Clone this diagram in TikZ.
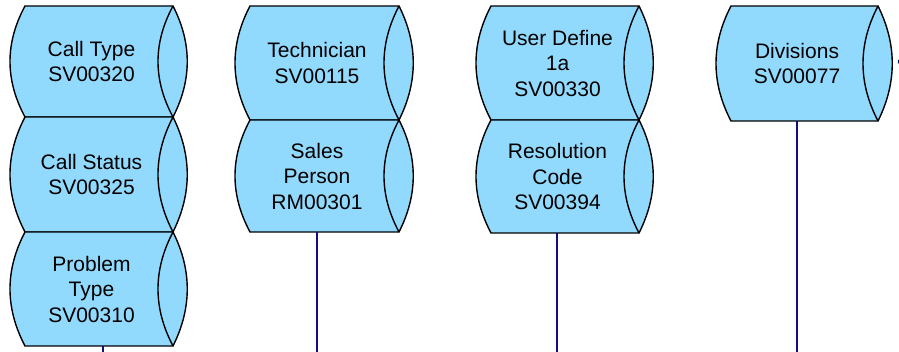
\documentclass[tikz,border=0pt]{standalone}
\usepackage{fontspec}
\setmainfont{Liberation Sans}
\definecolor{boxfill}{HTML}{92DAFD}
\definecolor{linkcol}{HTML}{10107A}
\tikzset{
  tapeshape/.style={fill=boxfill, draw=black, line width=1.4pt, line join=miter},
  tapeline/.style={draw=black, line width=1.4pt},
  tapetext/.style={inner sep=0pt, align=center, font=\fontsize{21}{25.5}\selectfont, text=black},
  link/.style={draw=linkcol, line width=1.8pt}
}
% name, L, R, T, B, text
\newcommand\tapebox[6]{%
  \pgfmathsetmacro\hh{(#5-#4)/3}%
  \path[tapeshape] (#2,#4) -- (#3,#4) .. controls ({#3+19},{#4+\hh}) and ({#3+19},{#5-\hh}) .. (#3,#5) -- (#2,#5) .. controls ({#2-20},{#5-\hh}) and ({#2-20},{#4+\hh}) .. cycle;
  \draw[tapeline] (#3,#4) .. controls ({#3-20},{#4+\hh}) and ({#3-20},{#5-\hh}) .. (#3,#5);
  \node[tapetext, minimum width={#3-#2}, minimum height={#5-#4}] (#1) at ({(#2+#3)/2-7.5},{(#4+#5)/2}) {#6};
}
\begin{document}
\begin{tikzpicture}[x=1pt,y=-1pt]
\useasboundingbox (0,0) rectangle (899,352);
% column 1
\tapebox{ct}{25}{173}{6}{117}{Call Type\\SV00320}
\tapebox{cs}{25}{173}{117}{232}{Call Status\\SV00325}
\tapebox{pt}{25}{173}{232}{346}{Problem\\Type\\SV00310}
% column 2
\tapebox{tech}{250}{399}{6}{120}{Technician\\SV00115}
\tapebox{sp}{250}{399}{120}{232}{Sales\\Person\\RM00301}
% column 3
\tapebox{ud}{491}{639}{6}{120}{User Define\\1a\\SV00330}
\tapebox{rc}{491}{639}{120}{233}{Resolution\\Code\\SV00394}
% column 4
\tapebox{div}{731}{878}{6}{121}{Divisions\\SV00077}
% free ends
\coordinate (e1) at (103,352);
\coordinate (e2) at (317,352);
\coordinate (e3) at (557,352);
\coordinate (e4) at (797,352);
\coordinate (e5) at (899,60);
\draw[link] (pt.south -| e1) -- (e1);
\draw[link] (sp.south -| e2) -- (e2);
\draw[link] (rc.south -| e3) -- (e3);
\draw[link] (div.south -| e4) -- (e4);
\draw[link] ([xshift=28pt]div.east) -- (e5);
\end{tikzpicture}
\end{document}
